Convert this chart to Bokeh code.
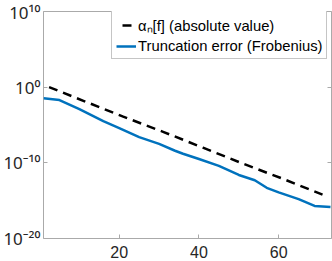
from bokeh.plotting import figure
from bokeh.models import Range1d, FixedTicker, LinearAxis, LogAxis, Legend, LegendItem
from bokeh.embed import file_html
from bokeh.resources import INLINE

# ---- data ----
n_alpha = [1, 11, 21, 31, 41, 51, 61, 71]
log_alpha = [0.3, -1.8, -3.9, -5.9, -8.0, -10.1, -12.1, -14.2]

n_trunc = [1, 5, 10, 16, 20, 25, 30, 34, 36, 40, 45, 50, 54, 57, 60, 65, 69, 73]
log_trunc = [-1.45, -1.7, -2.9, -4.5, -5.4, -6.6, -7.5, -8.4, -8.8, -9.5,
             -10.4, -11.6, -12.3, -13.3, -13.9, -14.8, -15.7, -15.85]

x_ticks = [20, 40, 60]
y_ticks = [1e-20, 1e-10, 1e0, 1e10]
y_tick_labels = ["10\u207b\u00b2\u2070", "10\u207b\u00b9\u2070", "10\u2070", "10\u00b9\u2070"]
legend_labels = ["\u03b1\u2099[f] (absolute value)", "Truncation error (Frobenius)"]

alpha_vals = [10 ** v for v in log_alpha]
trunc_vals = [10 ** v for v in log_trunc]

AX = "#aaaaaa"
TXT = "#262626"
FONT = "Liberation Sans"

p = figure(width=332, height=261, y_axis_type="log",
           x_range=Range1d(1, 73.25), y_range=Range1d(1e-20, 1e10),
           output_backend="svg", toolbar_location=None,
           min_border_left=42, min_border_right=1,
           min_border_top=11, min_border_bottom=23)
p.xgrid.visible = False
p.ygrid.visible = False
p.outline_line_color = AX
p.outline_line_width = 1
p.background_fill_color = "white"
p.border_fill_color = "white"

def style(ax, ticks, show=True, overrides=None, size="16px", font=FONT):
    ax.ticker = FixedTicker(ticks=ticks, minor_ticks=[])
    ax.axis_line_color = None
    ax.major_tick_line_color = AX
    ax.major_tick_in = 4
    ax.major_tick_out = 0
    ax.minor_tick_line_color = None
    ax.major_label_text_font = font
    ax.major_label_text_color = TXT
    ax.major_label_text_font_size = size
    if show:
        ax.major_label_standoff = 5
        if overrides:
            ax.major_label_overrides = overrides
    else:
        ax.major_label_standoff = 0
        ax.major_label_overrides = {t: "" for t in ticks}

style(p.xaxis[0], x_ticks, size="16px")
p.xaxis[0].major_label_standoff = 7
style(p.yaxis[0], y_ticks, overrides=dict(zip(y_ticks, y_tick_labels)),
      size="17px", font="Noto Sans")
p.yaxis[0].major_label_standoff = 3

top = LinearAxis()
style(top, x_ticks, show=False)
p.add_layout(top, "above")
right = LogAxis()
style(right, y_ticks, show=False)
p.add_layout(right, "right")

r1 = p.line(n_alpha, alpha_vals, line_color="black", line_width=2.5,
            line_dash="9 6", line_dash_offset=9)
r2 = p.line(n_trunc, trunc_vals, line_color="#0072BD", line_width=2.5)

legend = Legend(items=[LegendItem(label=legend_labels[0], renderers=[r1]),
                       LegendItem(label=legend_labels[1], renderers=[r2])],
                location=(68, 179))
legend.label_text_font = FONT
legend.label_text_font_size = "14.8px"
legend.label_text_color = "black"
legend.glyph_width = 20
legend.glyph_height = 16
legend.label_height = 16
legend.spacing = 3
legend.padding = 4
legend.margin = 0
legend.label_standoff = 2
legend.border_line_color = "#8c8c8c"
legend.border_line_width = 1
legend.background_fill_alpha = 1
p.add_layout(legend)

open("out.html", "w").write(file_html(p, INLINE))
